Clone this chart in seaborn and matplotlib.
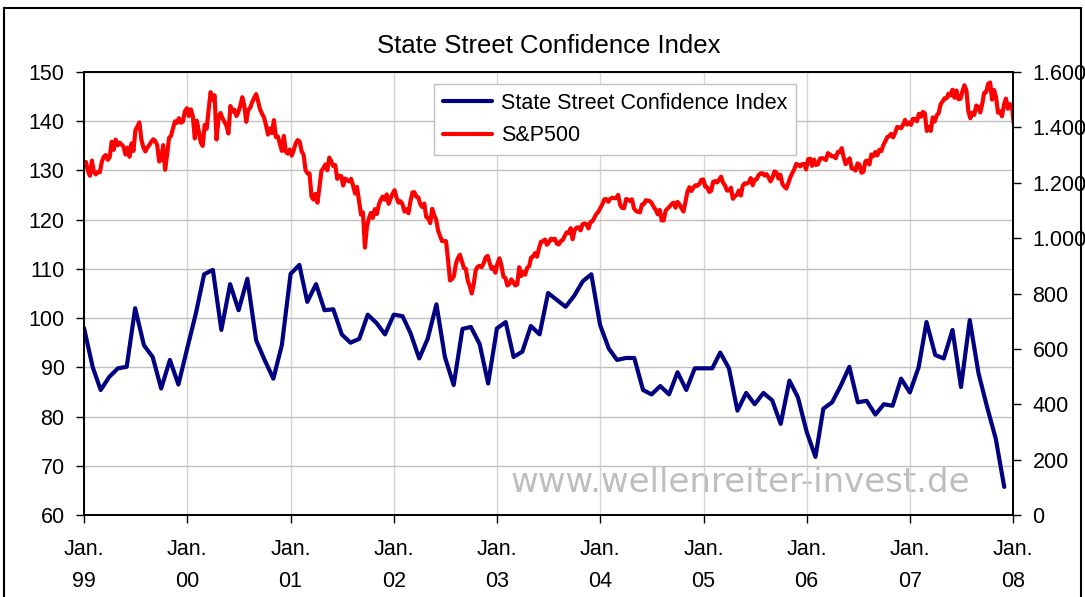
import numpy as np
import pandas as pd
import seaborn as sns
import matplotlib.pyplot as plt
from matplotlib.ticker import FuncFormatter, MultipleLocator
from matplotlib.patches import Rectangle

# monthly State Street Investor Confidence Index, Jan 1999 .. Dec 2007
confidence_1999 = [98.0, 90.0, 85.4, 88.1, 89.8, 90.1, 102.0, 94.5, 92.1, 85.7, 91.5, 86.5]
confidence_2000 = [93.8, 101.0, 108.9, 109.8, 97.6, 106.9, 101.6, 108.0, 95.5, 91.5, 87.7, 94.5]
confidence_2001 = [109.0, 110.8, 103.3, 106.9, 101.6, 101.8, 96.7, 95.0, 95.8, 100.7, 99.0, 96.7]
confidence_2002 = [100.7, 100.4, 97.0, 91.8, 95.8, 102.8, 92.1, 86.4, 97.8, 98.2, 94.7, 86.7]
confidence_2003 = [97.9, 99.2, 92.1, 93.2, 98.4, 96.7, 105.1, 103.7, 102.3, 104.5, 107.5, 108.9]
confidence_2004 = [98.6, 93.8, 91.5, 91.9, 91.9, 85.4, 84.5, 86.2, 84.5, 89.0, 85.4, 89.8]
confidence_2005 = [89.8, 89.8, 93.0, 89.8, 81.2, 84.8, 82.5, 84.8, 83.3, 78.5, 87.3, 83.9]
confidence_2006 = [76.9, 71.8, 81.6, 82.9, 86.2, 90.1, 82.9, 83.2, 80.4, 82.5, 82.2, 87.7]
confidence_2007 = [84.9, 90.0, 99.2, 92.5, 91.8, 97.6, 86.0, 99.6, 88.8, 82.0, 75.5, 65.7]

# weekly S&P 500 closes (Fridays), Jan 1999 .. first week of 2008
sp500_1999 = [1275, 1243, 1225, 1280, 1239, 1230, 1239, 1238, 1275, 1294, 1300, 1283,
              1293, 1348, 1319, 1356, 1335, 1345, 1338, 1330, 1302, 1327, 1294, 1342,
              1315, 1391, 1403, 1418, 1356, 1328, 1313, 1327, 1336, 1348, 1357, 1351,
              1336, 1277, 1282, 1336, 1247, 1301, 1362, 1370, 1397, 1422, 1416, 1433,
              1417, 1421, 1458, 1469]
sp500_2000 = [1441, 1465, 1441, 1360, 1424, 1387, 1346, 1333, 1409, 1395, 1464, 1527,
              1499, 1516, 1356, 1434, 1452, 1433, 1420, 1406, 1378, 1477, 1457, 1464,
              1441, 1455, 1478, 1509, 1480, 1420, 1462, 1471, 1491, 1506, 1520, 1494,
              1465, 1449, 1436, 1408, 1374, 1396, 1379, 1426, 1365, 1367, 1341, 1315,
              1369, 1312, 1305, 1320]
sp500_2001 = [1298, 1318, 1342, 1354, 1349, 1314, 1301, 1245, 1234, 1233, 1150, 1139,
              1160, 1128, 1183, 1242, 1253, 1266, 1245, 1291, 1277, 1260, 1264, 1214,
              1225, 1224, 1190, 1215, 1210, 1205, 1214, 1190, 1161, 1185, 1134, 1085,
              1093, 966, 1041, 1071, 1091, 1073, 1105, 1087, 1120, 1139, 1150, 1139,
              1158, 1124, 1144, 1161]
sp500_2002 = [1173, 1146, 1128, 1133, 1122, 1096, 1104, 1090, 1132, 1165, 1166, 1149,
              1147, 1122, 1112, 1125, 1076, 1073, 1054, 1106, 1083, 1067, 1027, 1007,
              989, 990, 989, 921, 847, 852, 864, 908, 928, 940, 916, 893,
              889, 846, 827, 800, 835, 884, 897, 900, 895, 909, 930, 936,
              912, 889, 895, 875]
sp500_2003 = [909, 927, 901, 861, 856, 829, 834, 851, 841, 829, 833, 895,
              863, 878, 868, 893, 898, 930, 933, 946, 933, 964, 987, 988,
              995, 976, 985, 998, 994, 998, 980, 977, 990, 993, 1008, 1021,
              1018, 1036, 996, 1029, 1038, 1039, 1028, 1050, 1053, 1050, 1035, 1058,
              1061, 1074, 1088, 1095]
sp500_2004 = [1109, 1122, 1140, 1141, 1131, 1142, 1146, 1144, 1145, 1156, 1120, 1109,
              1108, 1141, 1139, 1134, 1140, 1107, 1098, 1095, 1093, 1121, 1123, 1137,
              1135, 1134, 1126, 1112, 1102, 1086, 1102, 1064, 1064, 1099, 1107, 1114,
              1123, 1128, 1110, 1131, 1122, 1108, 1096, 1130, 1167, 1184, 1170, 1182,
              1191, 1189, 1195, 1210, 1212]
sp500_2005 = [1186, 1184, 1167, 1171, 1203, 1206, 1201, 1211, 1222, 1200, 1190, 1172,
              1172, 1182, 1142, 1152, 1156, 1172, 1154, 1190, 1198, 1197, 1201, 1217,
              1191, 1211, 1212, 1228, 1234, 1234, 1226, 1231, 1220, 1205, 1218, 1241,
              1237, 1215, 1229, 1196, 1186, 1179, 1198, 1220, 1235, 1248, 1268, 1265,
              1259, 1267, 1268, 1248]
sp500_2006 = [1285, 1287, 1261, 1284, 1264, 1267, 1287, 1289, 1287, 1282, 1307, 1302,
              1295, 1296, 1289, 1311, 1310, 1325, 1291, 1267, 1280, 1288, 1252, 1251,
              1244, 1270, 1265, 1236, 1240, 1278, 1280, 1266, 1302, 1296, 1311, 1299,
              1319, 1314, 1336, 1349, 1365, 1368, 1377, 1364, 1380, 1401, 1400, 1397,
              1409, 1427, 1410, 1418]
sp500_2007 = [1409, 1431, 1430, 1422, 1449, 1438, 1456, 1451, 1387, 1402, 1387, 1436,
              1421, 1443, 1452, 1484, 1494, 1505, 1505, 1522, 1515, 1536, 1507, 1533,
              1502, 1503, 1530, 1552, 1534, 1458, 1433, 1453, 1445, 1479, 1474, 1454,
              1484, 1525, 1527, 1557, 1562, 1500, 1535, 1509, 1453, 1458, 1440, 1481,
              1504, 1467, 1484, 1478]
sp500_2008 = [1411]

year_labels = ["99", "00", "01", "02", "03", "04", "05", "06", "07", "08"]

confidence = (confidence_1999 + confidence_2000 + confidence_2001 + confidence_2002 +
              confidence_2003 + confidence_2004 + confidence_2005 + confidence_2006 +
              confidence_2007)
conf_dates = pd.date_range("1999-01-01", periods=len(confidence), freq="MS")
sp500 = (sp500_1999 + sp500_2000 + sp500_2001 + sp500_2002 + sp500_2003 +
         sp500_2004 + sp500_2005 + sp500_2006 + sp500_2007 + sp500_2008)
sp_dates = pd.date_range("1999-01-08", periods=len(sp500), freq="W-FRI")

sns.set_style("white")
plt.rcParams['font.family'] = ['Liberation Sans', 'DejaVu Sans']
plt.rcParams['text.color'] = 'black'

W, H = 1085, 597
fig = plt.figure(figsize=(W / 100, H / 100), dpi=100)
ax = fig.add_axes([84 / W, (H - 515) / H, 929 / W, 443 / H])
ax2 = ax.twinx()

sns.lineplot(x=conf_dates, y=confidence, ax=ax, color="#000080", lw=3.0, legend=False)
sns.lineplot(x=sp_dates, y=sp500, ax=ax2, color="#ff0000", lw=3.0, legend=False)

year_ticks = pd.date_range("1999-01-01", periods=len(year_labels), freq="YS")
ax.set_xlim(year_ticks[0], year_ticks[-1])
ax.set_xticks(year_ticks)
ax.set_xticklabels(["Jan.\n" + y for y in year_labels], linespacing=1.7)
ax.set_ylim(60, 150)
ax.yaxis.set_major_locator(MultipleLocator(10))
ax2.set_ylim(0, 1600)
ax2.yaxis.set_major_locator(MultipleLocator(200))
ax2.yaxis.set_major_formatter(FuncFormatter(lambda v, p: f"{int(v):,}".replace(",", ".")))
ax.set_xlabel("")
ax.set_ylabel("")
ax2.set_ylabel("")

ax.grid(True, axis="y", color="#c0c0c0", lw=1)
ax.grid(True, axis="x", color="#d4d4d4", lw=1)
ax2.grid(False)
ax.set_axisbelow(True)

ax.tick_params(axis="both", direction="out", length=6, width=1, colors="black",
               labelsize=15.5, bottom=True, left=True)
ax.tick_params(axis="x", pad=11)
ax.tick_params(axis="y", pad=8)
ax2.tick_params(axis="y", direction="out", length=6, width=1, colors="black",
                labelsize=15.5, right=True, pad=8)
for a in (ax, ax2):
    for side in ["top", "bottom", "left", "right"]:
        a.spines[side].set_visible(True)
        a.spines[side].set_color("black")
        a.spines[side].set_linewidth(1.3)

# watermark
ax.text(0.706, 0.073, "www.wellenreiter-invest.de", transform=ax.transAxes,
        ha="center", va="center", fontsize=24.5, color="#bebebe",
        family="DejaVu Sans", zorder=0.5)

ax.set_title("State Street Confidence Index", fontsize=18.5, pad=14, color="black")

handles = [ax.get_lines()[0], ax2.get_lines()[0]]
leg = ax2.legend(handles, ["State Street Confidence Index", "S&P500"],
                 loc="upper left", bbox_to_anchor=(0.377, 0.973), borderaxespad=0,
                 fontsize=15.5, frameon=True, fancybox=False, framealpha=1,
                 edgecolor="#c0c0c0", handlelength=2.3, handletextpad=0.4,
                 borderpad=0.4, labelspacing=0.55)
leg.get_frame().set_linewidth(1)
for t in leg.get_texts():
    t.set_color("black")

fig.patches.append(Rectangle((4 / W, -0.01), 1077 / W, 1 - 8 / H + 0.01,
                             transform=fig.transFigure, fill=False,
                             edgecolor="black", lw=1.5))

fig.savefig("out.png", dpi=100)
